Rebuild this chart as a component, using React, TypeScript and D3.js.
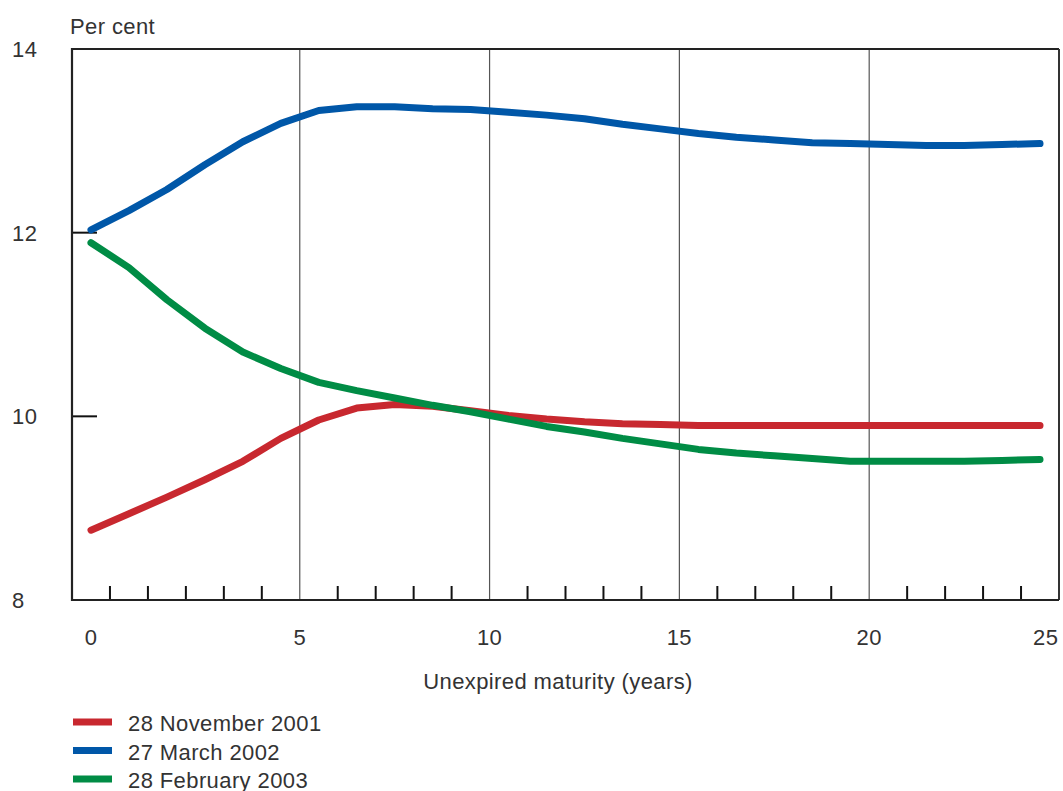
import React from "react";
import * as d3 from "d3";

const maturities = d3.range(0, 26);
const nov2001 = [8.76, 8.94, 9.12, 9.31, 9.51, 9.76, 9.96, 10.09, 10.13, 10.11, 10.06, 10.01, 9.97, 9.94, 9.92, 9.91, 9.9, 9.9, 9.9, 9.9, 9.9, 9.9, 9.9, 9.9, 9.9, 9.9];
const mar2002 = [12.03, 12.24, 12.47, 12.74, 12.99, 13.19, 13.33, 13.37, 13.37, 13.35, 13.34, 13.31, 13.28, 13.24, 13.18, 13.13, 13.08, 13.04, 13.01, 12.98, 12.97, 12.96, 12.95, 12.95, 12.96, 12.97];
const feb2003 = [11.89, 11.62, 11.27, 10.96, 10.7, 10.52, 10.37, 10.28, 10.2, 10.12, 10.05, 9.97, 9.89, 9.83, 9.76, 9.7, 9.64, 9.6, 9.57, 9.54, 9.51, 9.51, 9.51, 9.51, 9.52, 9.53];

const seriesNames = ["28 November 2001", "27 March 2002", "28 February 2003"];
const seriesColors = ["#c8282f", "#0057a8", "#008c45"];
const seriesValues = [nov2001, mar2002, feb2003];

const yTicks = [8, 10, 12, 14];
const xTickLabels = ["0", "5", "10", "15", "20", "25"];
const xTickPositions = [0, 5.5, 10.5, 15.5, 20.5, 25.15];
const gridPositions = [5.5, 10.5, 15.5, 20.5];
const minorTicks = d3.range(0.5, 25, 1).filter((v) => !gridPositions.includes(v));

const FONT = "'Liberation Sans', Arial, sans-serif";
const TEXT = "#333";
const FS = 22;
const LS = 0.4;

export default function App() {
  const left = 72, right = 1059, top = 49, bottom = 600;
  const x = d3.scaleLinear().domain([-0.5, 25.5]).range([left, right]);
  const y = d3.scaleLinear().domain([8, 14]).range([bottom, top]);
  const line = d3
    .line<number>()
    .x((_, i) => x(maturities[i]))
    .y((d) => y(d));

  const textProps = { fontFamily: FONT, fontSize: FS, fill: TEXT, letterSpacing: LS };

  return (
    <svg width={1063} height={791} style={{ position: "absolute", left: 0, top: 0, background: "#fff" }}>
      {gridPositions.map((g) => (
        <line key={g} x1={x(g)} x2={x(g)} y1={top} y2={bottom} stroke="#555" strokeWidth={1.2} />
      ))}
      {minorTicks.map((t) => (
        <line key={t} x1={x(t)} x2={x(t)} y1={bottom} y2={bottom - 14} stroke="#111" strokeWidth={2} />
      ))}
      {yTicks.filter((t) => t > 8 && t < 14).map((t) => (
        <line key={t} x1={left} x2={left + 25} y1={y(t)} y2={y(t)} stroke="#111" strokeWidth={2} />
      ))}
      <line x1={left} x2={right} y1={top} y2={top} stroke="#222" strokeWidth={2} />
      <line x1={right} x2={right} y1={top} y2={bottom} stroke="#333" strokeWidth={2} />
      <line x1={left} x2={left} y1={top - 1} y2={bottom + 1} stroke="#222" strokeWidth={2.2} />
      <line x1={left} x2={right} y1={bottom} y2={bottom} stroke="#222" strokeWidth={2.2} />
      {seriesValues.map((vals, i) => (
        <path
          key={i}
          d={line(vals) || ""}
          fill="none"
          stroke={seriesColors[i]}
          strokeWidth={7}
          strokeLinecap="round"
          strokeLinejoin="round"
        />
      ))}
      {yTicks.map((t) => (
        <text key={t} x={12} y={y(t) + 8} {...textProps}>
          {t}
        </text>
      ))}
      <text x={70} y={34} {...textProps}>Per cent</text>
      {xTickLabels.map((l, i) => (
        <text key={l} x={x(xTickPositions[i])} y={645} textAnchor="middle" {...textProps}>
          {l}
        </text>
      ))}
      <text x={558} y={689} textAnchor="middle" {...textProps}>
        Unexpired maturity (years)
      </text>
      {seriesNames.map((n, i) => (
        <g key={n} transform={`translate(0, ${722 + i * 28.5})`}>
          <line x1={73} x2={112} y1={0} y2={0} stroke={seriesColors[i]} strokeWidth={7} />
          <text x={128} y={9} {...textProps}>{n}</text>
        </g>
      ))}
    </svg>
  );
}
